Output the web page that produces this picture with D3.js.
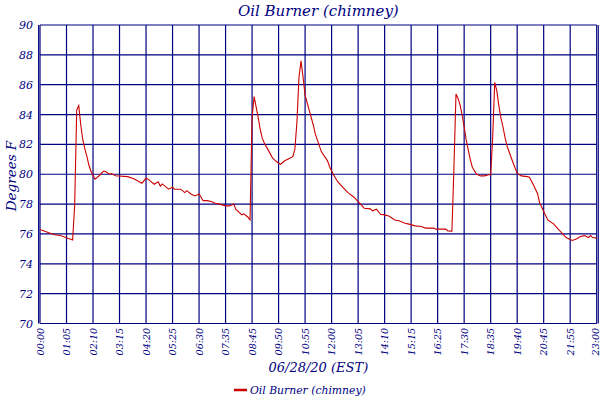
<!DOCTYPE html>
<html><head><meta charset="utf-8">
<script src="https://cdn.jsdelivr.net/npm/d3@7"></script>
<style>body{margin:0;background:#fff}svg{display:block}text{font-family:"DejaVu Serif",serif;font-style:italic;fill:#000080}</style>
</head><body><svg id="c" width="600" height="400"></svg>
<script>
// x tick labels (one every 13 samples)
const tickLabels = ["00:00","01:05","02:10","03:15","04:20","05:25","06:30","07:35","08:45","09:50","10:55","12:00","13:05","14:10","15:15","16:25","17:30","18:35","19:40","20:45","21:55","23:00"];
// sample index of each reading
const sampleIdx = [0,2,5,7,10,12,14,16,17,18,19,20,21,22,23,24,25,27,29,31,32,34,35,37,43,46,50,52,53,56,58,59,60,63,65,66,69,71,72,74,76,78,80,82,84,86,88,91,93,95,96,99,100,102,103,104,105,106,107,108,109,110,112,114,115,117,118,120,122,124,125,126,127,128,129,130,132,134,135,137,138,141,142,144,146,149,151,154,156,158,159,162,163,165,167,169,171,172,174,176,179,181,184,187,189,193,194,199,200,202,203,204,205,206,207,208,209,210,211,212,214,216,218,220,221,222,223,224,225,226,227,228,229,231,233,234,236,239,240,242,244,245,247,249,252,254,256,258,261,263,265,267,269,270,271,273];
// temperature, degrees F
const tempF = [76.3,76.2,76.05,75.95,75.9,75.8,75.7,75.6,77.9,84.3,84.6,83.3,82.3,81.7,81.2,80.6,80.2,79.67,79.9,80.2,80.2,80.0,80.05,79.9,79.84,79.7,79.4,79.73,79.67,79.33,79.5,79.2,79.35,79.0,79.13,79.0,79.0,78.77,78.9,78.68,78.55,78.68,78.23,78.23,78.17,78.06,78.0,77.88,77.88,78.0,77.66,77.28,77.35,77.12,76.94,83.8,85.2,84.5,83.8,83.0,82.4,82.1,81.6,81.1,80.96,80.74,80.67,80.9,81.04,81.18,81.7,83.5,86.5,87.6,86.5,85.3,84.3,83.3,82.7,81.9,81.5,80.9,80.5,79.95,79.5,79.05,78.77,78.46,78.17,77.88,77.72,77.68,77.55,77.66,77.32,77.28,77.21,77.12,76.94,76.88,76.72,76.66,76.54,76.5,76.39,76.39,76.32,76.32,76.2,76.19,80.5,85.37,85.08,84.64,83.97,83.18,82.3,81.63,81.0,80.47,80.02,79.89,79.89,79.97,79.97,82.5,86.16,85.6,84.6,83.8,83.2,82.5,81.9,81.14,80.4,80.07,79.89,79.84,79.8,79.28,78.7,78.1,77.5,76.94,76.66,76.34,76.05,75.76,75.56,75.66,75.83,75.89,75.76,75.89,75.76,75.72];
const yTicks = [70,72,74,76,78,80,82,84,86,88,90];
const title = "Oil Burner (chimney)";
const xTitle = "06/28/20 (EST)";
const yTitle = "Degrees F";

const svg = d3.select("#c");
const L = 40, R = 596.7, T = 25, B = 323.5;
const nTicks = tickLabels.length - 1;
const step = 13;
const x = d3.scaleLinear().domain([0, nTicks * step]).range([L, R]);
const y = d3.scaleLinear().domain([70, 90]).range([B, T]);
const navy = "#000080";

// grid
const g = svg.append("g");
g.selectAll(".vg").data(tickLabels).join("line")
  .attr("x1", (d,i) => x(i*step)).attr("x2", (d,i) => x(i*step))
  .attr("y1", T).attr("y2", B).attr("stroke", navy).attr("stroke-width", 1.2);
g.selectAll(".hg").data(yTicks).join("line")
  .attr("x1", L).attr("x2", R).attr("y1", d => y(d)).attr("y2", d => y(d))
  .attr("stroke", navy).attr("stroke-width", 1.2);
// double frame edges
g.append("line").attr("x1", L-1.4).attr("x2", L-1.4).attr("y1", T).attr("y2", B).attr("stroke", navy).attr("stroke-width", 1.1);
g.append("line").attr("x1", R+1.6).attr("x2", R+1.6).attr("y1", T).attr("y2", B).attr("stroke", navy).attr("stroke-width", 1.1);

// y tick labels
svg.selectAll(".yl").data(yTicks).join("text")
  .attr("x", 33).attr("y", d => y(d) + 4)
  .attr("text-anchor", "end").attr("font-size", 11).text(d => d);

// x tick labels
svg.selectAll(".xl").data(tickLabels).join("text")
  .attr("transform", (d,i) => `translate(${Math.min(x(i*step)+3.5, 598.5)},328) rotate(-90)`)
  .attr("text-anchor", "end").attr("font-size", 9.5).text(d => d);

// line
const pts = sampleIdx.map((s,i) => [s, tempF[i]]);
svg.append("path").datum(pts)
  .attr("fill", "none").attr("stroke", "#cc0000").attr("stroke-width", 1.1)
  .attr("d", d3.line().x(d => x(d[0])).y(d => y(d[1])));

// titles
svg.append("text").attr("x", (L+R)/2).attr("y", 16).attr("text-anchor", "middle").attr("font-size", 15).text(title);
svg.append("text").attr("x", (L+R)/2).attr("y", 372).attr("text-anchor", "middle").attr("font-size", 13).text(xTitle);
svg.append("text").attr("transform", "translate(16,176) rotate(-90)").attr("text-anchor", "middle").attr("font-size", 13.5).text(yTitle);

// legend
svg.append("line").attr("x1", 234).attr("x2", 247).attr("y1", 390).attr("y2", 390).attr("stroke", "#cc0000").attr("stroke-width", 2.5);
svg.append("text").attr("x", 250).attr("y", 394).attr("font-size", 10.8).text(title);
</script></body></html>
